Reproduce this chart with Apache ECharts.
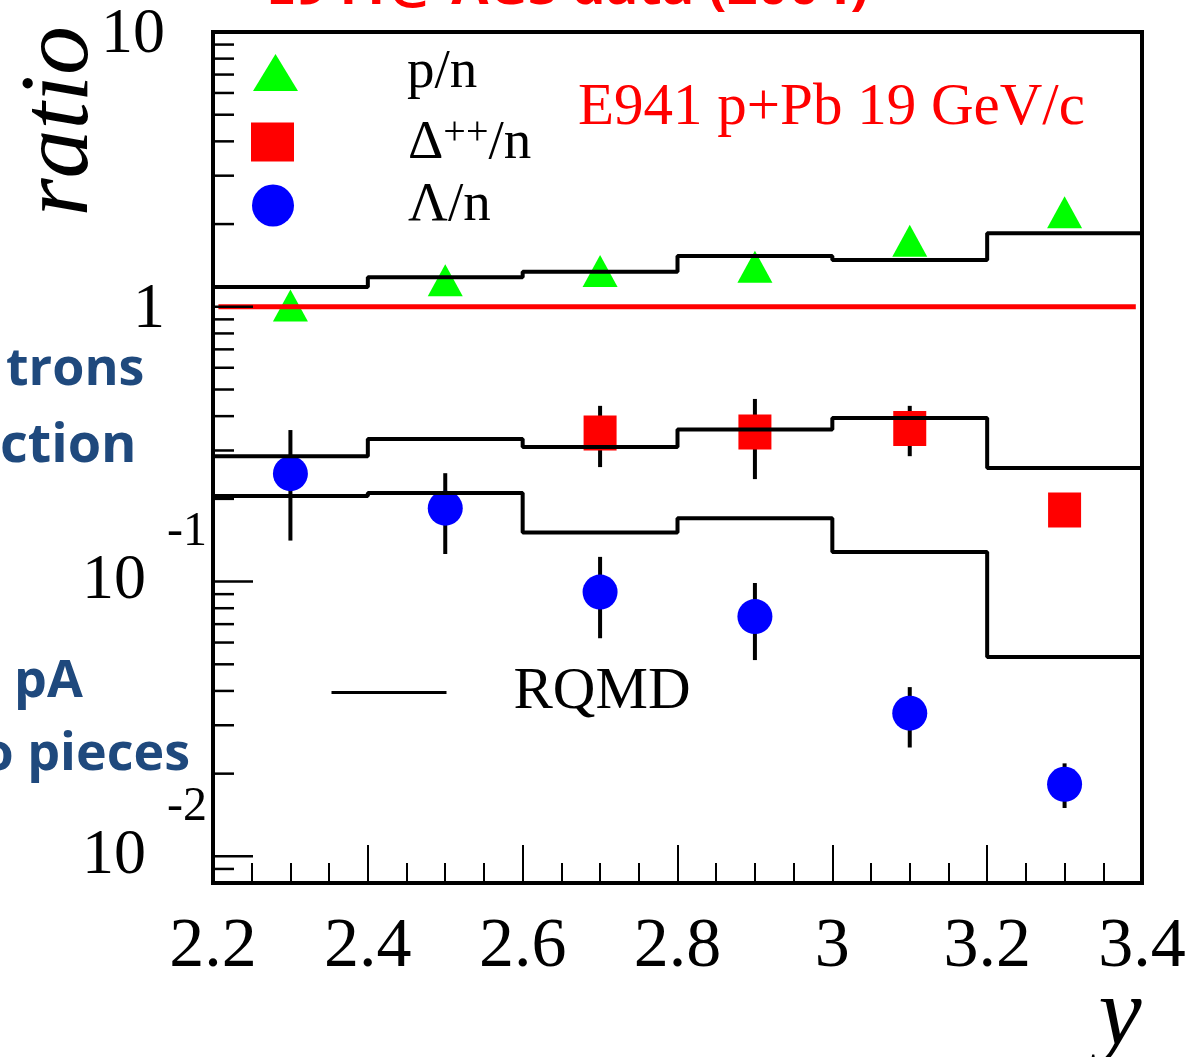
<!DOCTYPE html>
<html>
<head>
<meta charset="utf-8">
<script src="https://cdn.jsdelivr.net/npm/echarts@6/dist/echarts.min.js"></script>
<style>
html,body{margin:0;padding:0;background:#fff;}
#chart{width:1196px;height:1057px;}
</style>
</head>
<body>
<div id="chart"></div>
<script>
// ---------- data ----------
const xCenters = [2.3, 2.5, 2.7, 2.9, 3.1, 3.3];
const pnRatio = [1.01, 1.25, 1.35, 1.40, 1.74, 2.21];

const deltaX = [2.7, 2.9, 3.1, 3.3];
const deltaRatio = [0.347, 0.350, 0.361, 0.182];
const deltaLow = [0.261, 0.236, 0.286, 0.182];
const deltaHigh = [0.436, 0.462, 0.436, 0.182];

const lambdaRatio = [0.247, 0.185, 0.0916, 0.0746, 0.0332, 0.0183];
const lambdaLow = [0.141, 0.126, 0.0622, 0.0518, 0.0249, 0.0150];
const lambdaHigh = [0.356, 0.248, 0.123, 0.0988, 0.0413, 0.0218];

const binEdges = [2.2, 2.4, 2.6, 2.8, 3.0, 3.2, 3.4];
const rqmdP = [1.18, 1.28, 1.34, 1.53, 1.48, 1.85];
const rqmdDelta = [0.286, 0.330, 0.309, 0.358, 0.394, 0.259];
const rqmdLambda = [0.205, 0.210, 0.151, 0.170, 0.128, 0.0531];

const unityLine = [[2.207, 1], [3.392, 1]];

const xTickLabels = ['2.2', '2.4', '2.6', '2.8', '3', '3.2', '3.4'];
const yLabelValues = [10, 1, 0.1, 0.01];
const yLabelBase = ['10', '1', '10', '10'];
const yLabelExp = ['', '', '-1', '-2'];
const yMajorTicks = [0.01, 0.1, 1, 10];
const yMinorMantissa = [2, 3, 4, 5, 6, 7, 8, 9];
const yMinorDecades = [0.001, 0.01, 0.1, 1];

const xMin = 2.2, xMax = 3.4, yMin = 0.008, yMax = 10;

// ---------- helpers ----------
function histData(vals) {
  const d = vals.map((v, i) => [binEdges[i], v]);
  d.push([binEdges[binEdges.length - 1], vals[vals.length - 1]]);
  return d;
}
const yTickData = [];
yMajorTicks.forEach(v => yTickData.push([xMin, v, 1]));
yMinorDecades.forEach(dec => yMinorMantissa.forEach(m => {
  const v = +(m * dec).toPrecision(3);
  if (v >= yMin - 1e-9 && v < yMax) yTickData.push([xMin, v, 0]);
}));

const SERIF = '"Liberation Serif", "Times New Roman", serif';
const SANS = '"Open Sans", "Noto Sans", sans-serif';

function errorBarSeries(name, xs, lows, highs) {
  return {
    type: 'custom', name: name, z: 2, clip: false, silent: true,
    data: xs.map((x, i) => [x, lows[i], highs[i]]),
    renderItem: (params, api) => {
      const lo = api.coord([api.value(0), api.value(1)]);
      const hi = api.coord([api.value(0), api.value(2)]);
      return {type: 'line', shape: {x1: lo[0], y1: lo[1], x2: hi[0], y2: hi[1]},
              style: {stroke: '#000', lineWidth: 4}};
    }
  };
}
function histSeries(vals) {
  return {
    type: 'line', name: 'RQMD', step: 'end', symbol: 'none', showSymbol: false, z: 5,
    data: histData(vals),
    lineStyle: {color: '#000', width: 4}, itemStyle: {color: '#000'},
    emphasis: {disabled: true}
  };
}

const chart = echarts.init(document.getElementById('chart'), null, {renderer: 'canvas'});
const option = {
  backgroundColor: '#fff',
  animation: false,
  grid: {left: 213, top: 32, right: 54, bottom: 174, show: true, borderColor: '#000', borderWidth: 4, backgroundColor: 'transparent'},
  xAxis: {
    type: 'value', min: xMin, max: xMax, interval: 0.2,
    axisLine: {show: false},
    splitLine: {show: false},
    axisTick: {show: true, inside: true, length: 38, lineStyle: {color: '#000', width: 2}},
    minorTick: {show: true, splitNumber: 4, length: 20, lineStyle: {color: '#000', width: 2}},
    axisLabel: {
      show: true, margin: 30, color: '#000', fontFamily: SERIF, fontSize: 70,
      showMinLabel: true, showMaxLabel: true,
      formatter: (v, i) => xTickLabels[i]
    }
  },
  yAxis: {
    type: 'log', logBase: 10, min: yMin, max: yMax,
    axisLine: {show: false}, axisTick: {show: false}, axisLabel: {show: false}, splitLine: {show: false}
  },
  legend: [
    {data: ['p/n'], left: 253, top: 45, padding: 0, orient: 'vertical', itemWidth: 45, itemHeight: 37,
     selectedMode: false, textStyle: {fontFamily: SERIF, fontSize: 55, color: '#000', padding: [0, 0, 0, 104]}},
    {data: ['Δ++/n'], left: 251, top: 113, padding: 0, orient: 'vertical', itemWidth: 43, itemHeight: 39,
     selectedMode: false,
     formatter: () => '{a|Δ}{s|++}{a|/n}',
     textStyle: {color: '#000', padding: [0, 0, 0, 109],
       rich: {a: {fontFamily: SERIF, fontSize: 55, color: '#000', verticalAlign: 'bottom'},
              s: {fontFamily: SERIF, fontSize: 40, color: '#000', verticalAlign: 'top', padding: [0, 0, 18, 0]}}}},
    {data: ['Λ/n'], left: 252, top: 178, padding: 0, orient: 'vertical', itemWidth: 42, itemHeight: 42,
     selectedMode: false, textStyle: {fontFamily: SERIF, fontSize: 55, color: '#000', padding: [0, 0, 0, 109]}},
    {data: ['RQMD'], left: 330, top: 663, padding: 0, orient: 'vertical', itemWidth: 115, itemHeight: 14,
     selectedMode: false,
     itemStyle: {color: 'rgba(0,0,0,0)', borderWidth: 0, opacity: 0},
     lineStyle: {color: '#000', width: 3},
     textStyle: {fontFamily: SERIF, fontSize: 59, color: '#000', padding: [0, 0, 0, 62]}}
  ],
  series: [
    errorBarSeries('errDelta', deltaX, deltaLow, deltaHigh),
    errorBarSeries('errLambda', xCenters, lambdaLow, lambdaHigh),
    {type: 'scatter', name: 'p/n', z: 3, symbol: 'triangle', symbolSize: [35, 32],
     itemStyle: {color: '#00ff00', opacity: 1}, data: xCenters.map((x, i) => [x, pnRatio[i]])},
    {type: 'scatter', name: 'Δ++/n', z: 3, symbol: 'rect', symbolSize: [33, 35],
     itemStyle: {color: '#ff0000', opacity: 1}, data: deltaX.map((x, i) => [x, deltaRatio[i]])},
    {type: 'scatter', name: 'Λ/n', z: 3, symbol: 'circle', symbolSize: 35,
     itemStyle: {color: '#0000ff', opacity: 1}, data: xCenters.map((x, i) => [x, lambdaRatio[i]])},
    histSeries(rqmdP),
    histSeries(rqmdDelta),
    histSeries(rqmdLambda),
    {type: 'line', name: 'unity', z: 6, symbol: 'none', data: unityLine,
     lineStyle: {color: '#ff0000', width: 5}},
    // y-axis ticks (log scale, drawn through the axis coordinate system)
    {type: 'custom', name: 'yticks', z: 7, clip: false, silent: true,
     data: yTickData,
     renderItem: (params, api) => {
       const p = api.coord([api.value(0), api.value(1)]);
       const len = api.value(2) ? 40 : 21;
       return {type: 'line', shape: {x1: p[0], y1: p[1], x2: p[0] + len, y2: p[1]},
               style: {stroke: '#000', lineWidth: 2.5}};
     }},
    // y-axis labels
    {type: 'custom', name: 'ylabels', z: 7, clip: false, silent: true,
     data: yLabelValues.map(v => [xMin, v]),
     renderItem: (params, api) => {
       const i = params.dataIndex;
       const p = api.coord([api.value(0), api.value(1)]);
       const exp = yLabelExp[i];
       const children = [{type: 'text', style: {text: yLabelBase[i], x: p[0] - (exp ? 67 : 48), y: p[1] + (exp ? 0 : 3),
         align: 'right', verticalAlign: 'middle', font: '64px ' + SERIF, fill: '#000'}}];
       if (exp) children.push({type: 'text', style: {text: exp, x: p[0] - 46, y: p[1] - 49,
         align: 'left', verticalAlign: 'middle', font: '48px ' + SERIF, fill: '#000'}});
       return {type: 'group', children: children};
     }}
  ],
  graphic: [
    {type: 'text', left: 12, top: 26, rotation: Math.PI / 2, style: {text: 'ratio', font: 'italic 98px ' + SERIF, fill: '#000'}},
    {type: 'text', x: 1120, y: 1018, style: {text: 'y', font: 'italic 97px ' + SERIF, fill: '#000', align: 'center', verticalAlign: 'middle'}},
    {type: 'text', x: 578, y: 108, style: {text: 'E941 p+Pb 19 GeV/c', font: '59px ' + SERIF, fill: '#ff0000', align: 'left', verticalAlign: 'middle'}},
    {type: 'text', x: 266, y: -11, style: {text: 'E941@ AGS data (2004)', font: 'bold 54px ' + SANS, fill: '#ff0000', align: 'left', verticalAlign: 'middle'}},
    {type: 'text', x: 6, y: 370, style: {text: 'trons', font: 'bold 52px ' + SANS, fill: '#1f497d', align: 'left', verticalAlign: 'middle'}},
    {type: 'text', x: 0, y: 447, style: {text: 'ction', font: 'bold 54px ' + SANS, fill: '#1f497d', align: 'left', verticalAlign: 'middle'}},
    {type: 'text', x: 14, y: 682, style: {text: 'pA', font: 'bold 52px ' + SANS, fill: '#1f497d', align: 'left', verticalAlign: 'middle'}},
    {type: 'text', x: 190, y: 755, style: {text: 'o pieces', font: 'bold 52px ' + SANS, fill: '#1f497d', align: 'right', verticalAlign: 'middle'}}
  ]
};
chart.setOption(option);
</script>
</body>
</html>
